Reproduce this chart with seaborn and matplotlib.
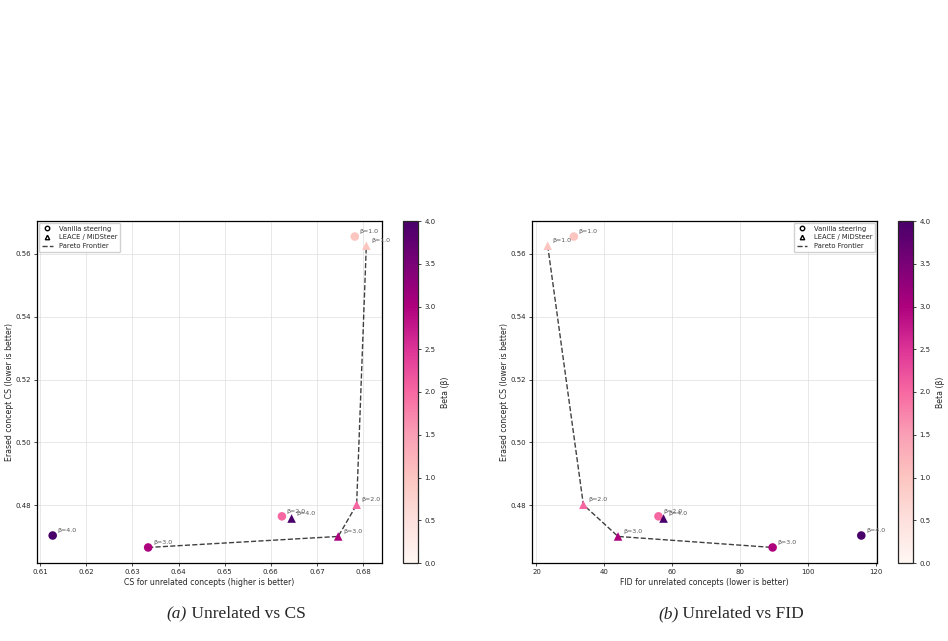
import numpy as np
import pandas as pd
import matplotlib
matplotlib.use("Agg")
import matplotlib.pyplot as plt
from matplotlib.lines import Line2D
import seaborn as sns

# ---- data ----
betas = [1.0, 2.0, 3.0, 4.0]
vanilla_cs_unrel = [0.6782, 0.6624, 0.6334, 0.6127]
vanilla_fid = [31.0, 55.9, 89.5, 115.6]
vanilla_erased = [0.5655, 0.4765, 0.4666, 0.4704]
leace_cs_unrel = [0.6807, 0.6786, 0.6746, 0.6645]
leace_fid = [23.3, 33.8, 44.0, 57.4]
leace_erased = [0.5626, 0.4802, 0.4701, 0.4758]

methods = ["Vanilla steering", "LEACE / MiDSteer"]
markers = {"Vanilla steering": "o", "LEACE / MiDSteer": "^"}

df = pd.DataFrame({
    "method": [methods[0]] * 4 + [methods[1]] * 4,
    "beta": betas + betas,
    "cs_unrel": vanilla_cs_unrel + leace_cs_unrel,
    "fid": vanilla_fid + leace_fid,
    "erased": vanilla_erased + leace_erased,
})

sns.set_style("white")
plt.rcParams["font.family"] = ["DejaVu Sans"]

W, H = 948, 641
fig = plt.figure(figsize=(W / 100, H / 100), dpi=100)

def rect(x0, x1, y0, y1):
    return [x0 / W, 1 - y1 / H, (x1 - x0) / W, (y1 - y0) / H]

cmap = plt.get_cmap("RdPu")
norm = matplotlib.colors.Normalize(vmin=0, vmax=4)


def pareto(xs, ys, maximize_x):
    pts = list(zip(xs, ys))
    front = []
    for i, (x, y) in enumerate(pts):
        dominated = False
        for j, (x2, y2) in enumerate(pts):
            if i == j:
                continue
            better_x = x2 >= x if maximize_x else x2 <= x
            if better_x and y2 <= y and (x2 != x or y2 != y):
                dominated = True
                break
        if not dominated:
            front.append((x, y))
    front.sort()
    return front


def panel(ax_rect, cb_rect, xcol, xlabel, maximize_x, legend_loc):
    ax = fig.add_axes(ax_rect)
    for m in methods:
        sub = df[df.method == m]
        sns.scatterplot(data=sub, x=xcol, y="erased", hue="beta", palette="RdPu",
                        hue_norm=(0, 4), marker=markers[m], s=38, linewidth=0,
                        legend=False, ax=ax, zorder=3)
        for _, r in sub.iterrows():
            ax.annotate(f"β={r.beta:.1f}", (r[xcol], r.erased), xytext=(3.5, 2.5),
                        textcoords="offset points", fontsize=4.5, color="#555555",
                        zorder=4)
    front = pareto(df[xcol].tolist(), df["erased"].tolist(), maximize_x)
    fx, fy = zip(*front)
    ax.plot(fx, fy, ls="--", color="black", alpha=0.75, lw=1.0, zorder=2)
    ax.grid(True, color="#dddddd", lw=0.6, alpha=0.8)
    ax.set_axisbelow(True)
    for s in ax.spines.values():
        s.set_color("black")
        s.set_linewidth(0.9)
    ax.tick_params(labelsize=5, length=2.5, width=0.6, direction="out",
                   bottom=True, left=True, pad=2)
    ax.set_yticks([0.48, 0.50, 0.52, 0.54, 0.56])
    ax.set_xlabel(xlabel, fontsize=5.6, labelpad=2)
    ax.set_ylabel("Erased concept CS (lower is better)", fontsize=5.6, labelpad=1)
    handles = [
        Line2D([], [], marker="o", ls="", color="black", markerfacecolor="white",
               markersize=3.2, markeredgewidth=1.0, label="Vanilla steering"),
        Line2D([], [], marker="^", ls="", color="black", markerfacecolor="white",
               markersize=3.2, markeredgewidth=1.0, label="LEACE / MiDSteer"),
        Line2D([], [], ls="--", color="black", alpha=0.75, lw=1.0, label="Pareto Frontier"),
    ]
    ax.legend(handles=handles, loc=legend_loc, fontsize=4.9, frameon=True,
              handlelength=1.6, borderpad=0.4, labelspacing=0.4, handletextpad=0.9,
              borderaxespad=0.3, fancybox=True, framealpha=0.9, edgecolor="#cccccc")
    cax = fig.add_axes(cb_rect)
    sm = matplotlib.cm.ScalarMappable(norm=norm, cmap=cmap)
    cb = fig.colorbar(sm, cax=cax)
    cb.set_ticks(np.arange(0, 4.01, 0.5))
    cb.ax.tick_params(labelsize=5, length=2.5, width=0.6, pad=2)
    cb.set_label("Beta (β)", fontsize=5.6, labelpad=4)
    cb.outline.set_linewidth(0.9)
    return ax


panel(rect(37, 382, 221, 563), rect(403, 418, 221, 563), "cs_unrel",
      "CS for unrelated concepts (higher is better)", True, "upper left")
panel(rect(532, 877, 221, 563), rect(898, 913, 221, 563), "fid",
      "FID for unrelated concepts (lower is better)", False, "upper right")


def caption(xc, tag, rest):
    t1 = fig.text(0, 0, tag, fontsize=12.5, family="Liberation Serif", style="italic")
    t2 = fig.text(0, 0, " " + rest, fontsize=12.5, family="Liberation Serif")
    fig.canvas.draw()
    r = fig.canvas.get_renderer()
    w1 = t1.get_window_extent(r).width
    w2 = t2.get_window_extent(r).width
    x0 = xc - (w1 + w2) / 2
    y = 1 - 618 / H
    t1.set_position((x0 / W, y))
    t2.set_position(((x0 + w1) / W, y))


caption(236, "(a)", "Unrelated vs CS")
caption(731, "(b)", "Unrelated vs FID")

fig.savefig("out.png", dpi=100)
